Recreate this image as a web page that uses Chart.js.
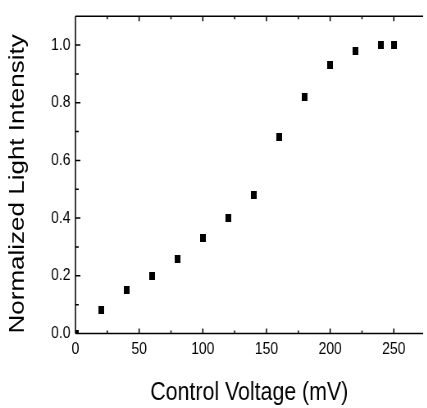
<!DOCTYPE html>
<html>
<head>
<meta charset="utf-8">
<script src="https://cdn.jsdelivr.net/npm/chart.js@4.4.0/dist/chart.umd.min.js"></script>
<style>
  html, body { margin: 0; padding: 0; overflow: hidden; background: #fff; }
  #wrap { width: 427px; height: 408px; overflow: hidden; }
  /* the original figure is squeezed horizontally, so draw wide and squeeze */
  #box { width: 521px; height: 408px; transform: scaleX(0.82); transform-origin: 0 0; }
</style>
</head>
<body>
<div id="wrap"><div id="box"><canvas id="chart" width="521" height="408"></canvas></div></div>
<script>
const voltage = [0, 20, 40, 60, 80, 100, 120, 140, 160, 180, 200, 220, 240, 250]
const intensity = [0.00, 0.08, 0.15, 0.20, 0.26, 0.33, 0.40, 0.48, 0.68, 0.82, 0.93, 0.98, 1.00, 1.00]

const xTicks = [0, 50, 100, 150, 200, 250]
const xMinor = [25, 75, 125, 175, 225, 275]
const yTicks = [0.0, 0.2, 0.4, 0.6, 0.8, 1.0]
const yMinor = [0.1, 0.3, 0.5, 0.7, 0.9]

// black block marker
const marker = document.createElement('canvas')
marker.width = 7
marker.height = 8
marker.getContext('2d').fillRect(0, 0, 7, 8)

// frame lines + inward ticks like the Origin plot
const frame = {
  id: 'frame',
  afterDraw(chart) {
    const { ctx, chartArea: a, scales: { x, y } } = chart
    ctx.save()
    ctx.strokeStyle = '#000'
    ctx.lineWidth = 1.5
    ctx.beginPath()
    ctx.moveTo(a.left, a.top); ctx.lineTo(a.right, a.top)
    ctx.moveTo(a.left, a.top); ctx.lineTo(a.left, a.bottom)
    ctx.moveTo(a.left, a.bottom); ctx.lineTo(a.right, a.bottom)
    const xt = (v, len) => {
      const px = x.getPixelForValue(v)
      if (px > a.right) return
      ctx.moveTo(px, a.bottom); ctx.lineTo(px, a.bottom - len)
      ctx.moveTo(px, a.top); ctx.lineTo(px, a.top + len)
    }
    const yt = (v, len) => {
      const py = y.getPixelForValue(v)
      ctx.moveTo(a.left, py); ctx.lineTo(a.left + len, py)
    }
    xTicks.forEach(v => xt(v, 5))
    xMinor.forEach(v => xt(v, 3))
    yTicks.forEach(v => yt(v, 6))
    yMinor.forEach(v => yt(v, 4))
    ctx.stroke()
    ctx.restore()
  }
}

new Chart(document.getElementById('chart'), {
  type: 'scatter',
  data: {
    datasets: [{
      data: voltage.map((v, i) => ({ x: v, y: intensity[i] })),
      pointStyle: marker,
      pointRadius: 4,
      backgroundColor: '#000',
      borderColor: '#000',
      clip: 0
    }]
  },
  options: {
    responsive: false,
    animation: false,
    devicePixelRatio: 1,
    layout: { padding: { top: 8, right: 0, left: 0, bottom: 0 } },
    plugins: { legend: { display: false }, tooltip: { enabled: false } },
    scales: {
      x: {
        type: 'linear',
        min: 0,
        max: 273,
        grid: { display: false, drawTicks: false },
        border: { display: false },
        afterBuildTicks: s => { s.ticks = xTicks.map(v => ({ value: v })) },
        afterFit: s => { s.height = 74.5 },
        ticks: {
          includeBounds: false,
          padding: 6,
          color: '#000',
          maxRotation: 0,
          font: { family: 'Liberation Sans, Arial', size: 17 }
        },
        title: {
          display: true,
          text: 'Control Voltage (mV)',
          color: '#000',
          padding: { top: 0, bottom: 0 },
          font: { family: 'Liberation Sans, Arial', size: 26 }
        }
      },
      y: {
        min: 0,
        max: 1.1,
        grid: { display: false, drawTicks: false },
        border: { display: false },
        afterBuildTicks: s => { s.ticks = yTicks.map(v => ({ value: v })) },
        afterFit: s => { s.width = 92 },
        ticks: {
          includeBounds: false,
          padding: 6,
          color: '#000',
          callback: v => v.toFixed(1),
          font: { family: 'Liberation Sans, Arial', size: 17 }
        },
        title: {
          display: true,
          text: 'Normalized Light Intensity',
          align: 'start',
          color: '#000',
          padding: { top: 6, bottom: 0 },
          font: { family: 'Liberation Sans, Arial', size: 26 }
        }
      }
    }
  },
  plugins: [frame]
})
</script>
</body>
</html>
